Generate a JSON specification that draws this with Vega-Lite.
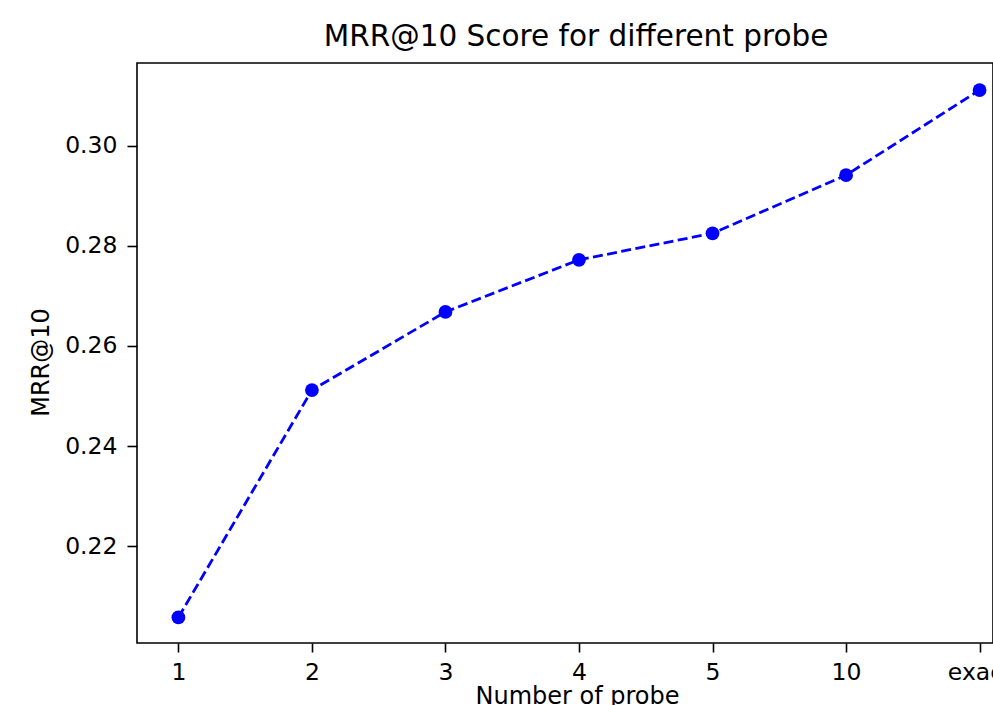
{
  "$schema": "https://vega.github.io/schema/vega-lite/v6.json",
  "autosize": {"type": "none"},
  "padding": {"left": 137, "top": 63, "right": 0, "bottom": 62},
  "width": 856,
  "height": 580,
  "background": "white",
  "config": {
    "font": "DejaVu Sans",
    "view": {"stroke": "black", "strokeWidth": 1.6},
    "axis": {"grid": false, "domain": false, "tickColor": "black", "tickWidth": 1.6, "tickSize": 9, "labelColor": "black", "labelFontSize": 23.5, "titleColor": "black", "titleFontSize": 24, "titleFontWeight": "normal", "labelFont": "DejaVu Sans", "titleFont": "DejaVu Sans"}
  },
  "title": {"text": "MRR@10 Score for different probe", "fontSize": 29.5, "fontWeight": "normal", "font": "DejaVu Sans", "color": "black", "anchor": "middle", "dx": 11, "dy": 25, "baseline": "alphabetic", "offset": 13},
  "data": {"values": [
    {"probe": "1", "mrr": 0.2058},
    {"probe": "2", "mrr": 0.2512},
    {"probe": "3", "mrr": 0.2668},
    {"probe": "4", "mrr": 0.2772},
    {"probe": "5", "mrr": 0.2825},
    {"probe": "10", "mrr": 0.2941},
    {"probe": "exact", "mrr": 0.3111}
  ]},
  "mark": {"type": "line", "color": "#0000ff", "strokeWidth": 2.8, "strokeDash": [10, 4.4], "point": {"filled": true, "size": 190, "color": "#0000ff", "opacity": 1}},
  "encoding": {
    "x": {"field": "probe", "type": "ordinal", "sort": null,
      "scale": {"type": "point", "range": [0, 884], "padding": 0.31},
      "axis": {"title": "Number of probe", "labelAngle": 0, "labelPadding": 8, "titlePadding": 1, "titleX": 440}},
    "y": {"field": "mrr", "type": "quantitative",
      "scale": {"domain": [0.2007, 0.3165], "nice": false, "zero": false},
      "axis": {"title": "MRR@10", "values": [0.22, 0.24, 0.26, 0.28, 0.30], "format": ".2f", "tickSize": 10, "labelPadding": 10, "titleX": -89, "titleY": 299, "titleBaseline": "alphabetic", "titleAngle": -90}}
  }
}
